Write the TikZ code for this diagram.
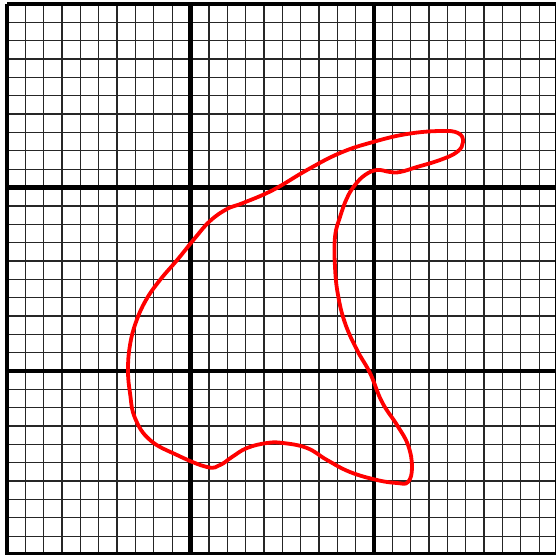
\documentclass[tikz,border=0pt]{standalone}
\begin{document}
\begin{tikzpicture}[x=1pt,y=-1pt,
  fineline/.style={line width=1.3pt,black!85},
  majorline/.style={line width=4.3pt,black},
  blob/.style={line width=3.8pt,red,line join=round}]
\useasboundingbox (0,0) rectangle (556,554);
\fill[white] (0,0) rectangle (556,554);
\foreach \i in {0,...,30}{
  \pgfmathsetmacro{\p}{7+\i*18.35}
  \pgfmathsetmacro{\q}{4+\i*18.35}
  \draw[fineline] (\p,4) -- (\p,554.5);
  \draw[fineline] (7,\q) -- (557.5,\q);
}
\foreach \i in {0,10,20,30}{
  \pgfmathsetmacro{\p}{7+\i*18.35}
  \pgfmathsetmacro{\q}{4+\i*18.35}
  \draw[majorline] (\p,4) -- (\p,554.5);
  \draw[majorline] (7,\q) -- (557.5,\q);
}
\draw[blob] plot[smooth cycle, tension=0.7] coordinates {
(463,142) (458,133) (440,131) (407,134) (373,142) (340,153) (307,170)
(273,190) (243,203) (227,209) (210,221) (195,238) (178,259) (160,280)
(146,300) (136,322) (130,345) (128,370) (130,393) (135,418) (150,440)
(177,455) (207,467) (220,465) (232,457) (247,448) (267,443) (283,443)
(307,448) (327,460) (350,472) (377,480) (397,483) (408,482) (412,467)
(408,445) (397,425) (382,402) (370,373) (357,350) (345,323) (338,295)
(335,267) (335,237) (340,217) (347,198) (355,185) (365,175) (377,170)
(390,172) (400,172) (417,167) (440,160) (457,152)};
\end{tikzpicture}
\end{document}
